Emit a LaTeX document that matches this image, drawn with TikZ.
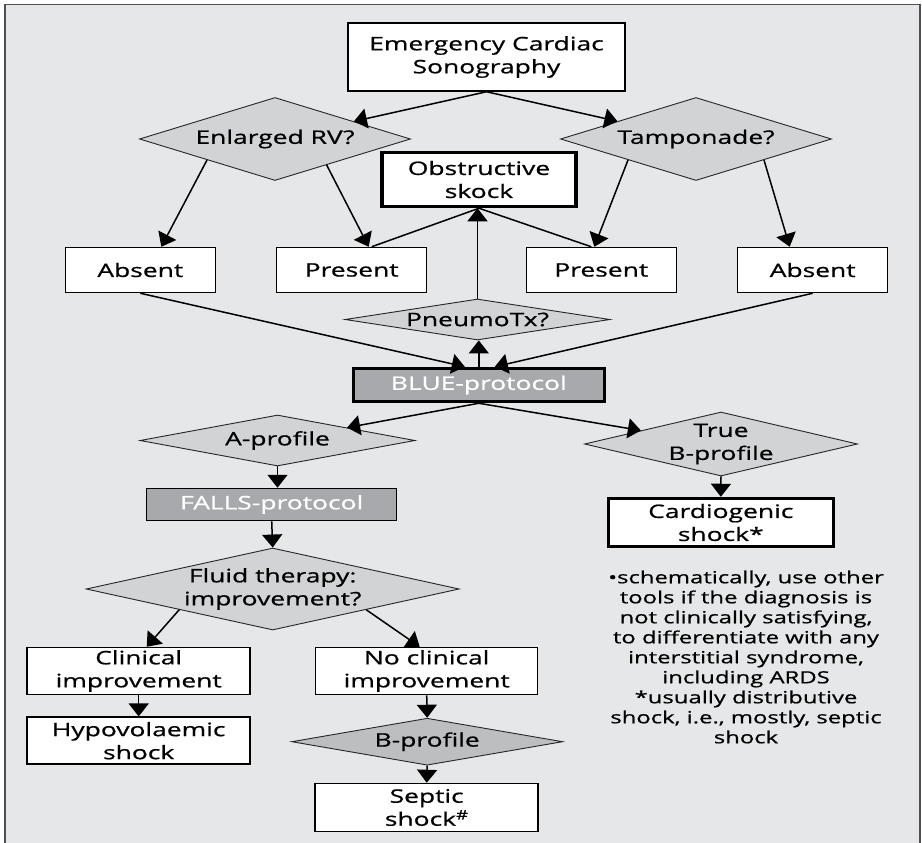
\documentclass[tikz,border=0pt]{standalone}
\usepackage{fontspec}
\setmainfont{Open Sans}[FakeStretch=1.42,FakeBold=0.7]
\usetikzlibrary{arrows.meta,shapes.geometric,calc}
\definecolor{panel}{RGB}{230,231,232}
\definecolor{frame}{RGB}{80,80,82}
\definecolor{query}{RGB}{209,211,212}
\definecolor{query2}{RGB}{188,190,192}
\definecolor{proto}{RGB}{167,169,172}
\tikzset{
  >={Triangle[length=13bp,width=20bp]},
  flow/.style={->,line width=1.5bp,draw=black},
  link/.style={line width=1.5bp,draw=black},
  box/.style={draw=black,fill=white,line width=1.5bp,inner sep=1bp,
    minimum width=#1,minimum height=45bp,align=center,
    font=\fontsize{18.6bp}{23bp}\selectfont},
  box/.default=150bp,
  strong box/.style={box=#1,line width=3.5bp},
  strong box/.default=194bp,
  proto/.style={box=#1,fill=proto,text=white,minimum height=32bp},
  proto/.default=250bp,
  decision/.style={diamond,draw=black!85,line width=0.9bp,fill=query,inner sep=0pt},
  dtext/.style={align=center,inner sep=0pt,font=\fontsize{18.6bp}{23bp}\selectfont},
  note/.style={align=center,inner sep=0pt,font=\fontsize{16.8bp}{20bp}\selectfont},
}
\begin{document}
\begin{tikzpicture}[x=1bp,y=-1bp]
  \useasboundingbox (0,0) rectangle (922,843);
  \fill[panel] (5,4.5) rectangle (920,843);
  \draw[frame,line width=1.3bp] (5,843) -- (5,4.5) -- (920,4.5) -- (920,843);

  % echo level
  \node[box=277bp,minimum height=68bp] (ecs) at (486.5,57) {Emergency Cardiac\\Sonography};
  \node[decision,minimum width=271bp,minimum height=83bp] (rv) at (275,139) {};
  \node[dtext] (rv-t) at (rv) {Enlarged RV?};
  \node[decision,minimum width=271bp,minimum height=83bp] (tamp) at (696,139) {};
  \node[dtext] (tamp-t) at (tamp) {Tamponade?};
  \node[strong box,minimum height=54bp] (obs) at (479,179.5) {Obstructive\\skock};
  \foreach \n/\x/\t in {absl/140.3/Absent,presl/351.7/Present,presr/601.3/Present,absr/812.7/Absent}
    \node[box] (\n) at (\x,270) {\t};

  \draw[flow] (ecs.south) -- (rv);
  \draw[flow] (ecs.south) -- (tamp);
  \draw[flow] (rv.south west) -- ([xshift=21bp]absl.north);
  \draw[flow] ($(rv.east)!0.62!(rv.south)$) -- ([xshift=17bp]presl.north);
  \draw[flow] (tamp.south west) -- ([xshift=-7bp]presr.north);
  \draw[flow] (tamp.south east) -- ([xshift=-23bp]absr.north);
  \draw[link] ([xshift=20bp]presl.north) -- (obs.south);
  \draw[link] ([xshift=-10bp]presr.north) -- (obs.south);

  % lung level
  \node[decision,minimum width=265bp,minimum height=41bp] (pneumo) at (477.5,319.5) {};
  \node[dtext] (pneumo-t) at (pneumo) {PneumoTx?};
  \node[proto=251bp,line width=3.5bp,minimum height=33bp] (blue) at (478.8,385) {BLUE-protocol};
  \draw[flow] (pneumo.north) -- (pneumo.north |- obs.south);
  \draw[flow] (blue.north) -- (blue.north |- pneumo.south);
  \draw[flow] (absl.south) -- ([xshift=-14bp]blue.north);
  \draw[flow] (absr.south) -- ([xshift=16bp]blue.north);

  \node[decision,minimum width=275bp,minimum height=51bp] (aprof) at (277.5,440.5) {};
  \node[dtext] (aprof-t) at (aprof) {A-profile};
  \node[decision,minimum width=273bp,minimum height=64bp] (trueb) at (721,444) {};
  \node[dtext] (trueb-t) at (trueb) {True\\B-profile};
  \node[proto] (falls) at (271.7,504.5) {FALLS-protocol};
  \node[strong box=225bp,minimum height=48bp] (cardio) at (720.8,522.5) {Cardiogenic\\shock*};
  \draw[flow] (blue.south) -- (aprof);
  \draw[flow] (blue.south) -- (trueb);
  \draw[flow] (aprof.south) -- (aprof.south |- falls.north);
  \draw[flow] (trueb.south) -- (cardio.north);

  % fluid level
  \node[decision,minimum width=373bp,minimum height=82bp] (fluid) at (272.7,589) {};
  \node[dtext] (fluid-t) at (fluid) {Fluid therapy:\\improvement?};
  \node[box=223bp,minimum height=47bp] (clin) at (138.7,671) {Clinical\\improvement};
  \node[box=222bp,minimum height=47bp] (nocl) at (426.7,671) {No clinical\\improvement};
  \node[box=223bp,minimum height=47bp] (hypo) at (138.7,740.7) {Hypovolaemic\\shock};
  \node[decision,fill=query2,minimum width=271bp,minimum height=47bp] (bprof) at (427.2,741.7) {};
  \node[dtext] (bprof-t) at (bprof) {B-profile};
  \node[box=223bp,minimum height=48bp] (septic) at (426.7,807.5) {Septic\\shock\textsuperscript{\#}};
  \draw[flow] (falls.south) -- (fluid.north);
  \draw[flow] (fluid.south west) -- ([xshift=8bp]clin.north);
  \draw[flow] (fluid.south east) -- ([xshift=-7bp]nocl.north);
  \draw[flow] (clin.south) -- (hypo.north);
  \draw[flow] (nocl.south) -- (bprof.north);
  \draw[flow] (bprof.south) -- (septic.north);

  \node[note] (remark) at (746,657) {\textbullet schematically, use other\\tools if the diagnosis is\\not clinically satisfying,\\to differentiate with any\\interstitial syndrome,\\including ARDS\\*usually distributive\\shock, i.e., mostly, septic\\shock};
\end{tikzpicture}
\end{document}
